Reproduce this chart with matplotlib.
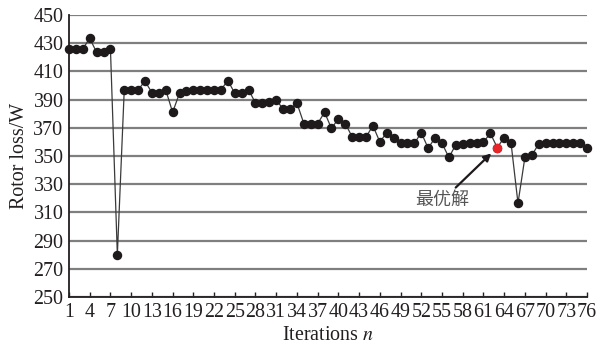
import matplotlib
matplotlib.use("Agg")
import matplotlib.pyplot as plt

# rotor loss per iteration
iterations = list(range(1, 77))
rotor_loss = [426, 426, 426, 433.5, 423.5, 423.5, 426, 280, 397, 397,
              397, 403, 395, 395, 397, 381, 394.5, 396, 396.5, 397,
              397, 397, 397, 403.5, 394.5, 394.5, 397, 387.5, 387.5, 388,
              389.5, 383.5, 383, 387.5, 373, 373, 373, 381, 369.5, 376.5,
              373, 363.5, 363.5, 363.5, 371.5, 360, 366.5, 363, 359, 359,
              359, 366.5, 355.5, 363, 359, 349, 358, 358.5, 359, 359,
              360, 366, 356, 363, 359, 316.5, 349, 350.5, 358.5, 359,
              359, 359, 359, 359, 359.5, 355.5]
best_iter = 63
xtick_labels = [str(i) for i in range(1, 77, 3)]
yticks = list(range(250, 451, 20))

plt.rcParams['font.family'] = ['Liberation Serif', 'DejaVu Serif']
plt.rcParams['mathtext.fontset'] = 'stix'

fig = plt.figure(figsize=(6.01, 3.47), dpi=100)
ax = fig.add_axes([0.1148, 0.1441, 0.862, 0.8127])

ax.set_ylim(250, 450)
ax.set_xlim(1, 76)
ax.set_yticks(yticks)
ax.grid(axis='y', color='#7f7f7f', lw=1.6, zorder=0)
ax.set_axisbelow(True)

ax.plot(iterations, rotor_loss, '-', color='#3a3a3a', lw=0.9, zorder=2)
ax.plot(iterations, rotor_loss, 'o', color='#1e1a1b', ms=5.8, zorder=3,
        clip_on=False)
bi = iterations.index(best_iter)
ax.plot([best_iter], [rotor_loss[bi]], 'o', color='#e8262a', ms=5.8,
        zorder=4)

ax.annotate('最优解', xy=(best_iter, rotor_loss[bi]),
            xytext=(-20, -38), textcoords='offset points',
            ha='right', va='center', fontsize=13, color='#555555',
            family=['Noto Sans CJK SC', 'DejaVu Sans'],
            arrowprops=dict(arrowstyle='-|>', color='#1e1a1b', lw=1.6,
                            mutation_scale=11, shrinkA=1, shrinkB=6))

ax.set_xticks(range(1, 77, 3))
ax.set_xticklabels(xtick_labels)
ax.tick_params(axis='x', direction='in', length=3.5, width=1, pad=4,
               labelsize=14.4, colors='#231f20')
ax.tick_params(axis='y', length=0, pad=4, labelsize=14.4, colors='#231f20')

for s in ['top', 'right']:
    ax.spines[s].set_visible(False)
ax.spines['left'].set_color('#231f20')
ax.spines['bottom'].set_color('#231f20')
ax.spines['left'].set_linewidth(1.3)
ax.spines['bottom'].set_linewidth(1.3)

ax.set_ylabel('Rotor loss/W', fontsize=14.4, color='#231f20', labelpad=3)
ax.set_xlabel('Iterations $n$', fontsize=14.4, color='#231f20', labelpad=3)

fig.savefig('out.png', dpi=100)
